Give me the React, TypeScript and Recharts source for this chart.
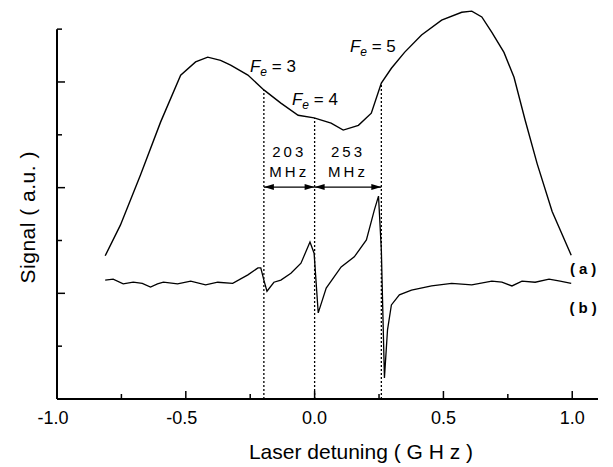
import { LineChart, Line, XAxis, YAxis, ReferenceLine, ReferenceDot } from "recharts";

const FONT = "'Liberation Sans', Arial, Helvetica, sans-serif";

// tick values
const xTicks = [-1, -0.75, -0.5, -0.25, 0, 0.25, 0.5, 0.75, 1];
const xMajor = [-1, -0.5, 0, 0.5, 1];
const yTicks = [0, 1, 2, 3, 4, 5, 6, 7];
const yMajor = [2, 4, 6];

// trace (a): absorption signal
const detuningA = [
  -0.813, -0.754, -0.676, -0.598, -0.52, -0.462, -0.415, -0.365, -0.326, -0.259, -0.197, -0.131,
  -0.064, -0.002, 0.064, 0.111, 0.17, 0.22, 0.259, 0.298, 0.349, 0.415, 0.493, 0.571, 0.61, 0.649,
  0.688, 0.735, 0.774, 0.817, 0.864, 0.922, 0.996,
];
const signalA = [
  2.71, 3.29, 4.24, 5.24, 6.13, 6.38, 6.47, 6.41, 6.32, 6.13, 5.85, 5.6, 5.37, 5.32, 5.22, 5.09,
  5.18, 5.41, 5.98, 6.26, 6.56, 6.89, 7.17, 7.32, 7.34, 7.23, 6.94, 6.56, 6.09, 5.28, 4.45, 3.55,
  2.72,
];

// trace (b): derivative signal
const detuningB = [
  -0.813, -0.782, -0.743, -0.704, -0.669, -0.637, -0.61, -0.587, -0.532, -0.481, -0.423, -0.376,
  -0.318, -0.259, -0.22, -0.209, -0.197, -0.185, -0.158, -0.131, -0.092, -0.053, -0.018, -0.002,
  0.014, 0.045, 0.103, 0.154, 0.201, 0.232, 0.248, 0.259, 0.271, 0.283, 0.298, 0.329, 0.376, 0.454,
  0.532, 0.61, 0.688, 0.727, 0.766, 0.805, 0.856, 0.91, 0.953, 0.996,
];
const signalB = [
  2.25, 2.27, 2.18, 2.21, 2.19, 2.12, 2.18, 2.21, 2.18, 2.23, 2.16, 2.21, 2.19, 2.35, 2.48, 2.48,
  2.25, 2.04, 2.21, 2.25, 2.38, 2.57, 2.97, 2.76, 1.63, 2.1, 2.5, 2.69, 3.01, 3.58, 3.84, 2.82, 0.4,
  1.31, 1.78, 1.97, 2.06, 2.14, 2.19, 2.16, 2.23, 2.21, 2.14, 2.23, 2.21, 2.27, 2.23, 2.19,
];

// hyperfine markers
const markerX = [-0.197, 0, 0.259];
const markerTop = [5.85, 5.32, 5.98];
const levelNames = ["3", "4", "5"];
const spacings = ["203", "253"];

const dataA = detuningA.map((x, i) => ({ x, y: signalA[i] }));
const dataB = detuningB.map((x, i) => ({ x, y: signalB[i] }));

function XTick(props: any) {
  const { x, y, payload } = props;
  const v = payload.value;
  const major = xMajor.includes(v);
  return (
    <g>
      <line x1={x} y1={y} x2={x} y2={y - (major ? 8 : 5)} stroke="#000" strokeWidth={1.5} />
      {major && (
        <text x={x - (v < 0 ? 4 : 0)} y={y + 25} textAnchor="middle" fontSize={18} fontFamily={FONT} fill="#000">
          {v.toFixed(1)}
        </text>
      )}
    </g>
  );
}

function YTick(props: any) {
  const { x, y, payload } = props;
  if (payload.value === 0) return <g />;
  const len = yMajor.includes(payload.value) ? 8 : 5;
  return <line x1={x} y1={y} x2={x + len} y2={y} stroke="#000" strokeWidth={1.5} />;
}

function Arrow(p: any) {
  const x1 = Number(p.x1), x2 = Number(p.x2), y = Number(p.y1);
  return (
    <g>
      <line x1={x1} y1={y} x2={x2} y2={y} stroke="#000" strokeWidth={1.4} />
      <polygon points={`${x1},${y} ${x1 + 10},${y - 3} ${x1 + 10},${y + 3}`} fill="#000" />
      <polygon points={`${x2},${y} ${x2 - 10},${y - 3} ${x2 - 10},${y + 3}`} fill="#000" />
    </g>
  );
}

const levelPos = [
  { x: -0.251, y: 6.19 },
  { x: -0.088, y: 5.56 },
  { x: 0.137, y: 6.57 },
];

export default function App() {
  return (
    <LineChart width={605} height={459} margin={{ top: 0, right: 15, bottom: 0, left: 0 }}>
      <XAxis
        type="number"
        dataKey="x"
        domain={[-1, 1.1]}
        ticks={xTicks}
        interval={0}
        tick={<XTick />}
        tickLine={false}
        tickSize={0}
        tickMargin={0}
        height={68}
        axisLine={{ stroke: "#000", strokeWidth: 2 }}
        allowDuplicatedCategory={false}
      />
      <YAxis
        type="number"
        dataKey="y"
        domain={[0, 7.4]}
        ticks={yTicks}
        interval={0}
        tick={<YTick />}
        tickLine={false}
        tickSize={0}
        tickMargin={0}
        width={49}
        axisLine={false}
      />
      <ReferenceLine
        segment={[{ x: -1, y: 0 }, { x: -1, y: 7 }]}
        stroke="#000"
        strokeWidth={2}
        ifOverflow="visible"
      />
      {markerX.map((mx, i) => (
        <ReferenceLine
          key={"m" + i}
          segment={[{ x: mx, y: 0 }, { x: mx, y: markerTop[i] }]}
          stroke="#000"
          strokeWidth={1.3}
          strokeDasharray="2 2"
        />
      ))}
      {spacings.map((s, i) => (
        <ReferenceLine
          key={"a" + i}
          segment={[{ x: markerX[i], y: 4.01 }, { x: markerX[i + 1], y: 4.01 }]}
          shape={Arrow}
        />
      ))}
      <Line data={dataA} dataKey="y" type="linear" stroke="#000" strokeWidth={1.4} dot={false} isAnimationActive={false} />
      <Line data={dataB} dataKey="y" type="linear" stroke="#000" strokeWidth={1.3} dot={false} isAnimationActive={false} />
      {levelNames.map((n, i) => (
        <ReferenceDot
          key={"f" + i}
          x={levelPos[i].x}
          y={levelPos[i].y}
          ifOverflow="visible"
          shape={(p: any) => (
            <text x={p.cx} y={p.cy} fontSize={17} fontFamily={FONT} fill="#000">
              <tspan fontStyle="italic">F</tspan>
              <tspan fontStyle="italic" fontSize={12} dy={4}>e</tspan>
              <tspan dy={-4}>{" = " + n}</tspan>
            </text>
          )}
        />
      ))}
      {spacings.map((s, i) => (
        <ReferenceDot
          key={"s" + i}
          x={(markerX[i] + markerX[i + 1]) / 2}
          y={4.58}
          ifOverflow="visible"
          shape={(p: any) => (
            <text x={p.cx} y={p.cy} textAnchor="middle" fontSize={15} letterSpacing={3} fontFamily={FONT} fill="#000">
              <tspan x={p.cx}>{s}</tspan>
              <tspan x={p.cx} dy={20}>MHz</tspan>
            </text>
          )}
        />
      ))}
      <ReferenceDot
        x={1.05}
        y={2.36}
        ifOverflow="visible"
        shape={(p: any) => (
          <text x={p.cx} y={p.cy} textAnchor="middle" fontSize={15} fontWeight="bold" letterSpacing={4} fontFamily={FONT} fill="#000">
            (a)
          </text>
        )}
      />
      <ReferenceDot
        x={1.05}
        y={1.63}
        ifOverflow="visible"
        shape={(p: any) => (
          <text x={p.cx} y={p.cy} textAnchor="middle" fontSize={15} fontWeight="bold" letterSpacing={4} fontFamily={FONT} fill="#000">
            (b)
          </text>
        )}
      />
      <ReferenceDot
        x={0.18}
        y={-1.13}
        ifOverflow="visible"
        shape={(p: any) => (
          <text x={p.cx} y={p.cy} textAnchor="middle" fontSize={21} fontFamily={FONT} fill="#000">
            {"Laser  detuning ( G H z )"}
          </text>
        )}
      />
      <ReferenceDot
        x={-1.113}
        y={3.44}
        ifOverflow="visible"
        shape={(p: any) => (
          <text
            x={p.cx}
            y={p.cy}
            textAnchor="middle"
            dominantBaseline="central"
            fontSize={21}
            letterSpacing={0.5}
            fontFamily={FONT}
            fill="#000"
            transform={`rotate(-90 ${p.cx} ${p.cy})`}
          >
            {"Signal ( a.u. )"}
          </text>
        )}
      />
    </LineChart>
  );
}
